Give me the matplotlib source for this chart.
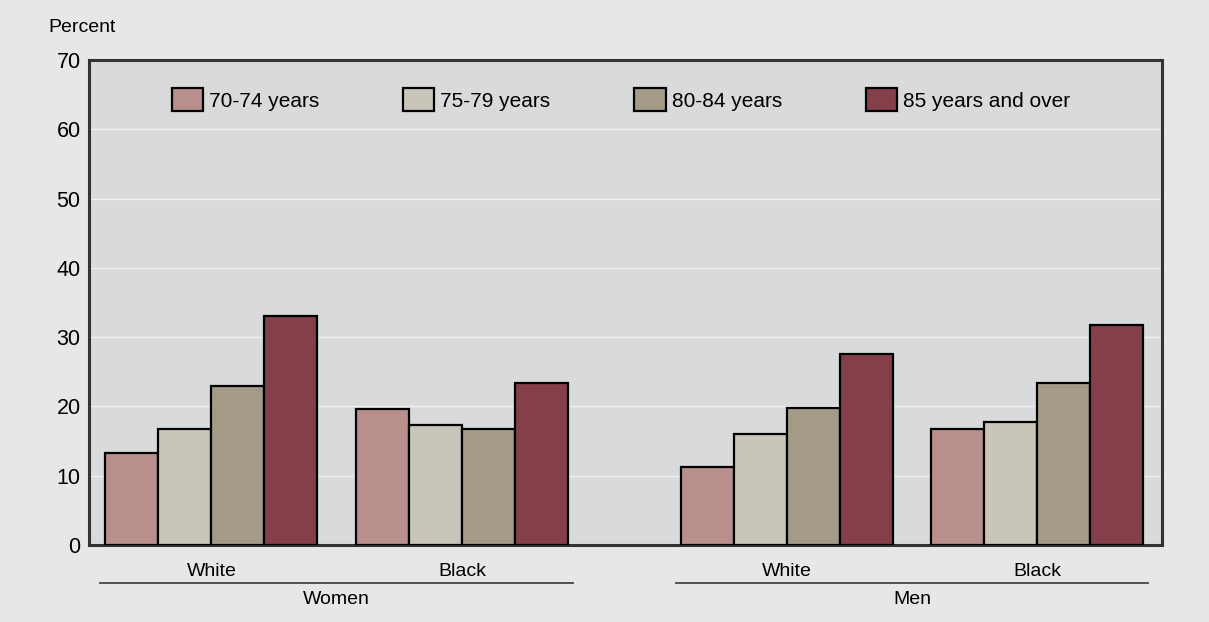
import matplotlib
matplotlib.use('Agg')
import matplotlib.pyplot as plt
import numpy as np

plt.rcParams['font.family'] = ['Liberation Sans Narrow', 'Liberation Sans', 'DejaVu Sans']

# data
genders = ['Women', 'Men']
races = ['White', 'Black', 'White', 'Black']
age_groups = ['70-74 years', '75-79 years', '80-84 years', '85 years and over']
age_70_74 = [13.3, 19.7, 11.3, 16.7]
age_75_79 = [16.7, 17.3, 16.0, 17.8]
age_80_84 = [23.0, 16.8, 19.8, 23.4]
age_85_up = [33.0, 23.4, 27.6, 31.7]
yticks = [0, 10, 20, 30, 40, 50, 60, 70]

series = [age_70_74, age_75_79, age_80_84, age_85_up]
colors = ['#b88f8c', '#c9c5ba', '#a39a88', '#843f4a']

# layout: group centres in bar-width units
centers = np.array([0.0, 4.726, 10.858, 15.575])
offsets = [-1.5, -0.5, 0.5, 1.5]

fig = plt.figure(figsize=(12.09, 6.22), dpi=100, facecolor='#e6e7e8')
ax = fig.add_axes([0.0736, 0.1238, 0.8875, 0.7797])
ax.set_facecolor('#d9dadc')

for vals, off, col, lab in zip(series, offsets, colors, age_groups):
    ax.bar(centers + off, vals, width=1.0, color=col, edgecolor='black',
           linewidth=1.6, label=lab, zorder=3)

ax.set_ylim(0, 70)
ax.set_xlim(-2.311, 17.934)
ax.set_yticks(yticks)
ax.set_yticklabels([str(t) for t in yticks], fontsize=15.5)
ax.tick_params(axis='y', length=0, pad=6)
for t in yticks[1:-1]:
    ax.axhline(t, color='#efefef', linewidth=1.0, zorder=1)

ax.set_xticks(centers)
ax.set_xticklabels(races, fontsize=14)
ax.tick_params(axis='x', length=0, pad=13)

for s in ax.spines.values():
    s.set_linewidth(2.2)
    s.set_color('#333333')

# gender labels with lines underneath race labels
tr = ax.get_xaxis_transform()
for i, g in enumerate(genders):
    x0 = centers[2 * i] - 2.1
    x1 = centers[2 * i + 1] + 2.1
    ax.plot([x0, x1], [-0.078, -0.078], color='#444444', linewidth=1.3,
            transform=tr, clip_on=False)
    ax.text((x0 + x1) / 2, -0.112, g, transform=tr, ha='center', va='center',
            fontsize=14)

leg = ax.legend(loc='center left', bbox_to_anchor=(0.077, 0.918), ncol=4,
                frameon=False, fontsize=15, handlelength=1.49, handleheight=1.3,
                handletextpad=0.29, columnspacing=4.04, borderpad=0,
                borderaxespad=0)

fig.text(48 / 1209, 1 - 28 / 622, 'Percent', fontsize=14, va='center', ha='left')

plt.savefig('out.png', dpi=100, facecolor=fig.get_facecolor())
